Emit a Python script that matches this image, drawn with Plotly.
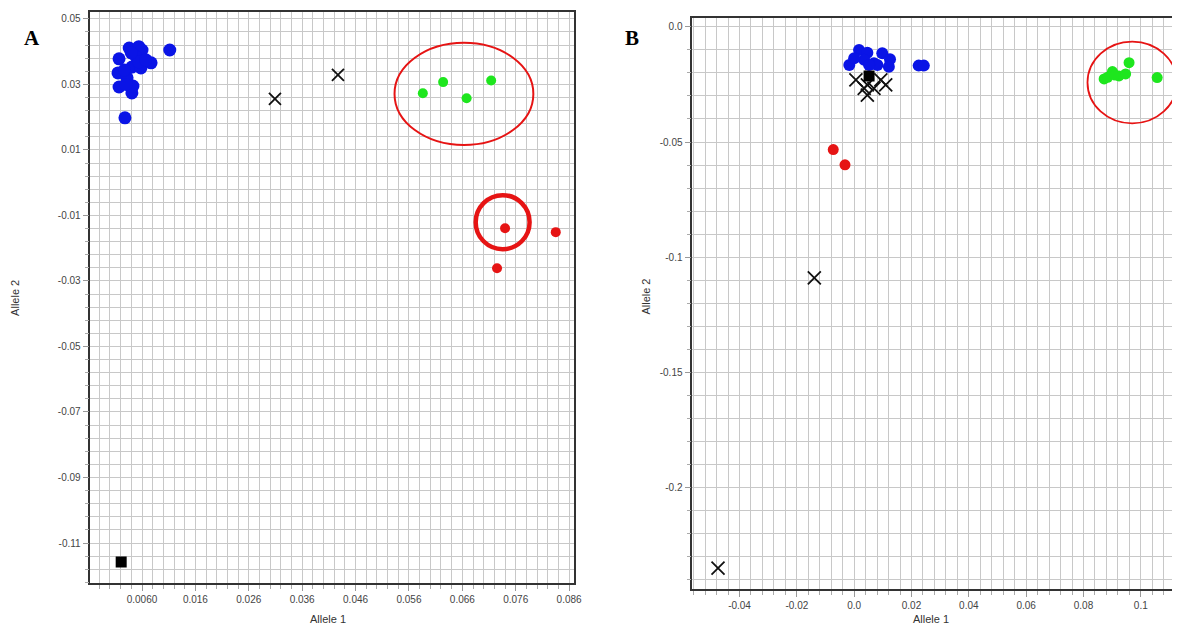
import plotly.graph_objects as go

# ---------------- Panel A data ----------------
a_blue_x = [0.0017, 0.0015, 0.0017, 0.0028, 0.0041, 0.0043, 0.0036, 0.0054, 0.0060, 0.0049,
            0.0041, 0.0032, 0.0058, 0.0077, 0.0054, 0.0112, 0.0040, 0.0027, 0.0067, 0.0030]
a_blue_y = [0.0378, 0.0335, 0.0292, 0.0198, 0.0274, 0.0295, 0.0411, 0.0415, 0.0405, 0.0384,
            0.0353, 0.0320, 0.0350, 0.0366, 0.0369, 0.0405, 0.0396, 0.0344, 0.0375, 0.0300]
a_green_x = [0.0586, 0.0624, 0.0668, 0.0714]
a_green_y = [0.0273, 0.0307, 0.0258, 0.0312]
a_red_x = [0.0740, 0.0835, 0.0725]
a_red_y = [-0.0139, -0.0151, -0.0261]
a_cross_x = [0.0309, 0.0427]
a_cross_y = [0.0256, 0.0329]
a_square_x = [0.0021]
a_square_y = [-0.1158]
a_xtick_vals = [0.006, 0.016, 0.026, 0.036, 0.046, 0.056, 0.066, 0.076, 0.086]
a_xtick_text = ["0.0060", "0.016", "0.026", "0.036", "0.046", "0.056", "0.066", "0.076", "0.086"]
a_ytick_vals = [0.05, 0.03, 0.01, -0.01, -0.03, -0.05, -0.07, -0.09, -0.11]
a_ytick_text = ["0.05", "0.03", "0.01", "-0.01", "-0.03", "-0.05", "-0.07", "-0.09", "-0.11"]
a_green_ring = [0.0533, 0.0427, 0.0793, 0.0115]   # x0, y0, x1, y1
a_red_ring = [0.0685, -0.0038, 0.0786, -0.0203]

# ---------------- Panel B data ----------------
b_blue_x = [-0.0017, 0.0017, 0.0046, 0.0035, 0.0069, 0.0098, 0.0125, 0.0121, 0.0081, 0.0000,
            0.0225, 0.0243, 0.0052]
b_blue_y = [-0.0165, -0.0100, -0.0112, -0.0143, -0.0158, -0.0114, -0.0140, -0.0173, -0.0165, -0.0136,
            -0.0168, -0.0168, -0.0165]
b_green_x = [0.0872, 0.0901, 0.0924, 0.0947, 0.0959, 0.1057, 0.0884, 0.0910]
b_green_y = [-0.0226, -0.0194, -0.0213, -0.0204, -0.0155, -0.0220, -0.0219, -0.0209]
b_red_x = [-0.0073, -0.0032]
b_red_y = [-0.0533, -0.0599]
b_cross_x = [0.0006, 0.0046, 0.0046, 0.0093, 0.0110, 0.0069, 0.0035, -0.0139, -0.0475]
b_cross_y = [-0.0230, -0.0252, -0.0296, -0.0230, -0.0252, -0.0267, -0.0267, -0.1091, -0.2352]
b_square_x = [0.0052]
b_square_y = [-0.0213]
b_xtick_vals = [-0.04, -0.02, 0.0, 0.02, 0.04, 0.06, 0.08, 0.1]
b_xtick_text = ["-0.04", "-0.02", "0.0", "0.02", "0.04", "0.06", "0.08", "0.1"]
b_ytick_vals = [0.0, -0.05, -0.1, -0.15, -0.2]
b_ytick_text = ["0.0", "-0.05", "-0.1", "-0.15", "-0.2"]
b_green_ring = [0.0814, -0.0064, 0.1126, -0.0419]

BLUE = "#0a14e6"
GREEN = "#1ee61e"
RED = "#e61414"
GRID = "#c8c8c8"
AXC = "#333333"
FONT = "Liberation Sans, Arial, sans-serif"

fig = go.Figure()

def pts(x, y, color, size, xa, ya, symbol="circle", lw=0):
    return go.Scatter(x=x, y=y, mode="markers", xaxis=xa, yaxis=ya, showlegend=False,
                      marker=dict(color=color, size=size, symbol=symbol,
                                  line=dict(color=color, width=lw)))

# Panel A
fig.add_trace(pts(a_blue_x, a_blue_y, BLUE, 13, "x", "y"))
fig.add_trace(pts(a_green_x, a_green_y, GREEN, 10, "x", "y"))
fig.add_trace(pts(a_red_x, a_red_y, RED, 10, "x", "y"))
fig.add_trace(pts(a_cross_x, a_cross_y, "#111111", 12, "x", "y", "x-thin", 1.8))
fig.add_trace(pts(a_square_x, a_square_y, "#000000", 11, "x", "y", "square"))

# Panel B
fig.add_trace(pts(b_cross_x, b_cross_y, "#111111", 13, "x2", "y2", "x-thin", 1.8))
fig.add_trace(pts(b_blue_x, b_blue_y, BLUE, 12, "x2", "y2"))
fig.add_trace(pts(b_green_x, b_green_y, GREEN, 11, "x2", "y2"))
fig.add_trace(pts(b_red_x, b_red_y, RED, 11, "x2", "y2"))
fig.add_trace(pts(b_square_x, b_square_y, "#000000", 11, "x2", "y2", "square"))

tickfont = dict(family=FONT, size=10, color="#444444")

def axis(domain, rng, tv, tt, mdt, mt0, mirror=True, anchor=None):
    d = dict(domain=domain, range=rng, tickvals=tv, ticktext=tt, tickfont=tickfont,
             showgrid=True, gridcolor=GRID, gridwidth=1, zeroline=False,
             showline=True, linecolor=AXC, linewidth=1.5, mirror=mirror,
             ticks="outside", ticklen=6, tickcolor="#999999", tickwidth=1,
             minor=dict(dtick=mdt, tick0=mt0, showgrid=True, gridcolor=GRID, gridwidth=1,
                        ticks="outside", ticklen=4, tickcolor="#aaaaaa"))
    if anchor:
        d["anchor"] = anchor
    return d

fig.update_layout(
    width=1180, height=627,
    margin=dict(l=0, r=0, t=0, b=0),
    paper_bgcolor="white", plot_bgcolor="white",
    xaxis=axis([0.07712, 0.48983], [-0.00367, 0.08693], a_xtick_vals, a_xtick_text, 0.002, 0.006, True, "y"),
    yaxis=axis([0.07018, 0.98086], [-0.1222, 0.0521], a_ytick_vals, a_ytick_text, 0.004, 0.05, True, "x"),
    xaxis2=axis([0.59068, 1.0], [-0.05648, 0.11088], b_xtick_vals, b_xtick_text, 0.004, 0.0, True, "y2"),
    yaxis2=axis([0.06061, 0.97129], [-0.2443, 0.0039], b_ytick_vals, b_ytick_text, 0.01, 0.0, False, "x2"),
)

shapes = []
for ring, xr, yr, w in [(a_green_ring, "x", "y", 2), (a_red_ring, "x", "y", 4.5), (b_green_ring, "x2", "y2", 1.8)]:
    shapes.append(dict(type="circle", xref=xr, yref=yr, x0=ring[0], y0=ring[1], x1=ring[2], y1=ring[3],
                       line=dict(color=RED, width=w), layer="above"))
fig.update_layout(shapes=shapes)

def ann(text, x, y, size=11, rot=0, fam=FONT, bold=False, color="#333333"):
    fig.add_annotation(text=("<b>%s</b>" % text) if bold else text, xref="paper", yref="paper",
                       x=x / 1180, y=1 - y / 627, showarrow=False, textangle=rot,
                       font=dict(family=fam, size=size, color=color), xanchor="center", yanchor="middle")

ann("Allele 1", 330, 619)
ann("Allele 2", 15, 298, rot=-90)
ann("Allele 1", 937, 619)
ann("Allele 2", 650, 297, rot=-90)
ann("A", 32, 38, size=21, fam="Liberation Serif, Times New Roman, serif", bold=True, color="#000000")
ann("B", 636, 38, size=21, fam="Liberation Serif, Times New Roman, serif", bold=True, color="#000000")

fig.write_html(
    "out.html",
    config={"displayModeBar": False},
    post_script=(
        "document.documentElement.style.margin='0';document.documentElement.style.padding='0';"
        "document.documentElement.style.overflow='hidden';"
        "document.body.style.margin='0';document.body.style.padding='0';document.body.style.overflow='hidden';"
    ),
)
